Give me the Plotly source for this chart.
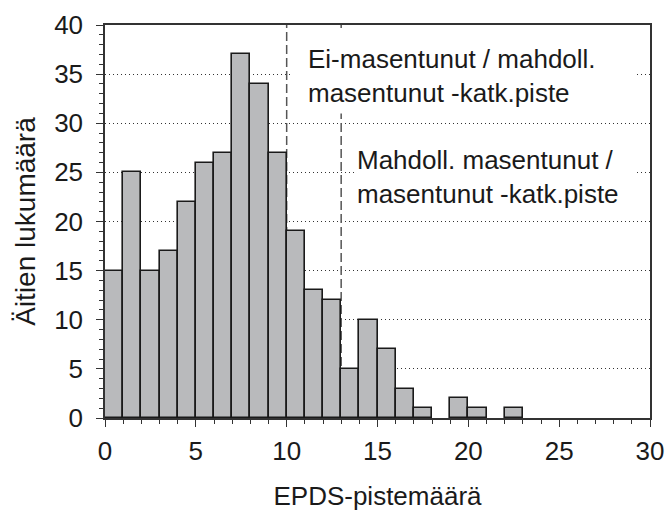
import plotly.graph_objects as go

# EPDS score bins (bar starts at score, width 1)
scores = list(range(0, 23))
counts = [15, 25, 15, 17, 22, 26, 27, 37, 34, 27, 19, 13, 12, 5, 10, 7, 3, 1, 0, 2, 1, 0, 1]
cutoffs = [10, 13]
x_ticks = [0, 5, 10, 15, 20, 25, 30]
y_ticks = [0, 5, 10, 15, 20, 25, 30, 35, 40]
label_1 = "Ei-masentunut / mahdoll.<br>masentunut -katk.piste"
label_2 = "Mahdoll. masentunut /<br>masentunut -katk.piste"
x_title = "EPDS-pistemäärä"
y_title = "Äitien lukumäärä"

FONT = "Liberation Sans, Arial, sans-serif"
TXT = "#1a1a1a"

fig = go.Figure()
fig.add_trace(go.Bar(
    x=scores, y=counts, width=1, offset=0,
    marker=dict(color="#b9babc",
                line=dict(color="#1a1a1a", width=[1.6 if c > 0 else 0 for c in counts])),
    showlegend=False, hoverinfo="x+y",
))

shapes = []
for c in cutoffs:
    shapes.append(dict(type="line", xref="x", yref="y", x0=c, x1=c, y0=0, y1=40,
                       line=dict(color="#555555", width=1.5, dash="9px,4px"), layer="between"))
# white label boxes (hide gridlines / cutoff line behind the text)
shapes.append(dict(type="rect", xref="x", yref="y", x0=10.25, x1=29.15, y0=31.0, y1=39.5,
                   fillcolor="white", line=dict(width=0), layer="between"))
shapes.append(dict(type="rect", xref="x", yref="y", x0=13.75, x1=29.15, y0=21.0, y1=28.6,
                   fillcolor="white", line=dict(width=0), layer="between"))

annotations = [
    dict(text=label_1, xref="x", yref="y", x=11.05, y=34.8, xanchor="left", yanchor="middle",
         align="left", showarrow=False, font=dict(family=FONT, size=26, color=TXT)),
    dict(text=label_2, xref="x", yref="y", x=13.75, y=24.5, xanchor="left", yanchor="middle",
         align="left", showarrow=False, font=dict(family=FONT, size=26, color=TXT)),
]

axis_common = dict(
    showline=True, linecolor="#333333", linewidth=1.5, mirror=True,
    ticks="outside", ticklen=7, tickwidth=1.2, tickcolor="#333333",
    tickfont=dict(family=FONT, size=26, color=TXT),
    zeroline=False, automargin=False,
)

fig.update_layout(
    width=666, height=512,
    margin=dict(l=105, r=16, t=25, b=94),
    paper_bgcolor="white", plot_bgcolor="white",
    bargap=0,
    shapes=shapes, annotations=annotations,
    xaxis=dict(
        range=[0, 30], tickvals=x_ticks, showgrid=False,
        minor=dict(dtick=1, ticks="outside", ticklen=4, tickcolor="#333333", showgrid=False),
        ticklabelstandoff=2,
        title=dict(text=x_title, font=dict(family=FONT, size=26, color=TXT), standoff=22),
        **axis_common,
    ),
    yaxis=dict(
        range=[0, 40], tickvals=y_ticks, showgrid=True, gridcolor="#333333", gridwidth=1,
        griddash="1px,3px",
        minor=dict(dtick=1, ticks="outside", ticklen=4, tickcolor="#333333", showgrid=False),
        ticklabelstandoff=8,
        title=dict(text=y_title, font=dict(family=FONT, size=28, color=TXT), standoff=10),
        **axis_common,
    ),
)

fig.write_html(
    "out.html",
    config={"displayModeBar": False},
    post_script="document.body.style.margin='0';document.body.style.overflow='hidden';",
)
